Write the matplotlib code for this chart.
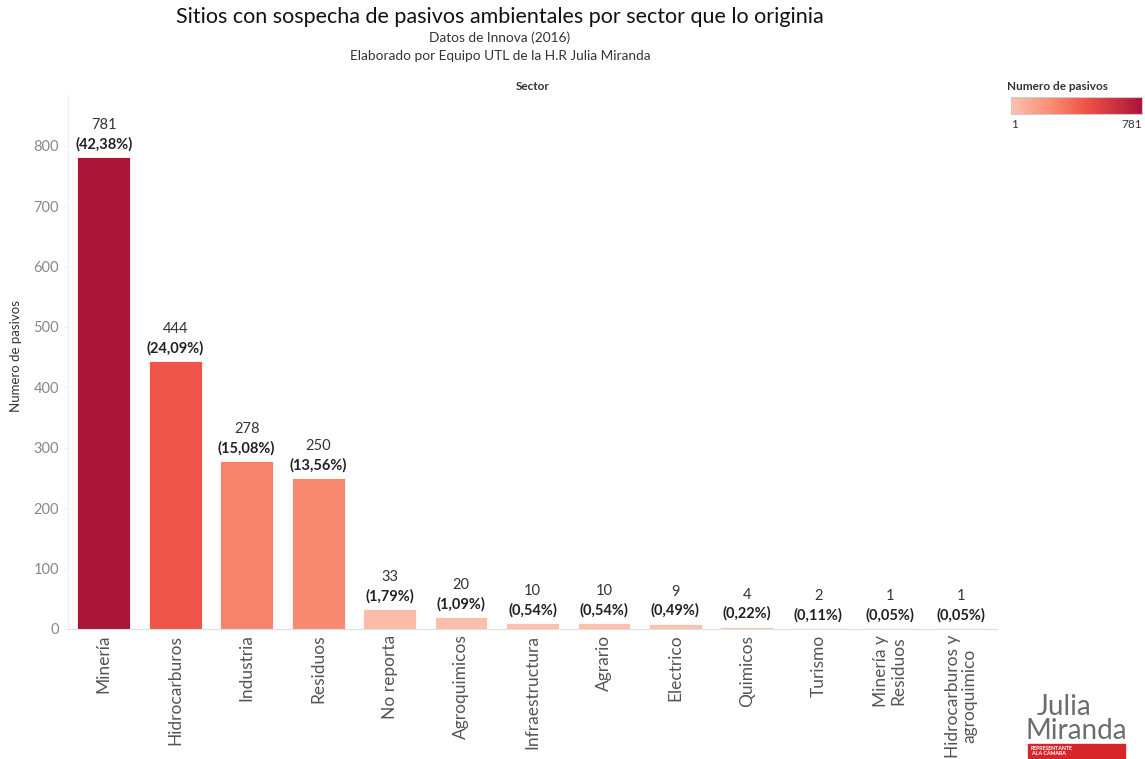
import numpy as np
import matplotlib.pyplot as plt
from matplotlib.colors import LinearSegmentedColormap, Normalize
from matplotlib.patches import Rectangle

plt.rcParams['font.family'] = ['Lato', 'DejaVu Sans']

sectores = ["Minería", "Hidrocarburos", "Industria", "Residuos", "No reporta",
            "Agroquimicos", "Infraestructura", "Agrario", "Electrico", "Quimicos",
            "Turismo", "Minería y\nResiduos", "Hidrocarburos y\nagroquimico"]
pasivos = [781, 444, 278, 250, 33, 20, 10, 10, 9, 4, 2, 1, 1]

total = sum(pasivos)
cmap = LinearSegmentedColormap.from_list(
    "rojos", [(0.0, "#fdc2b0"), (0.32, "#f98a72"), (0.57, "#ef5449"), (1.0, "#ab1439")])
norm = Normalize(vmin=1, vmax=781)

fig = plt.figure(figsize=(11.45, 7.59), dpi=100)
W, H = 1145, 759
ax = fig.add_axes([68 / W, 1 - 629 / H, (997 - 68) / W, (629 - 95) / H])

x = np.arange(len(sectores))
colores = [cmap(norm(v)) for v in pasivos]
ax.bar(x, pasivos, width=0.74, color=colores, edgecolor="white", linewidth=0.6)

for xi, v in zip(x, pasivos):
    pct = f"({v / total * 100:.2f}%)".replace(".", ",")
    ax.annotate(pct, (xi, v), xytext=(0, 4), textcoords="offset points",
                ha="center", va="bottom", fontsize=10.5, fontweight="bold", color="#222222")
    ax.annotate(str(v), (xi, v), xytext=(0, 18), textcoords="offset points",
                ha="center", va="bottom", fontsize=10.5, color="#333333")

ax.set_xlim(-0.5, 12.5)
ax.set_ylim(0, 884)
ax.set_yticks(range(0, 801, 100))
ax.tick_params(axis="y", labelsize=10.5, length=3, color="#eeeeee", labelcolor="#888888")
ax.set_xticks(x)
ax.set_xticklabels(sectores, rotation=90, fontsize=12.5, color="#555555", linespacing=1.05)
ax.tick_params(axis="x", length=0, pad=4)
for s in ["top", "right"]:
    ax.spines[s].set_visible(False)
ax.spines["left"].set_color("#eeeeee")
ax.spines["bottom"].set_color("#e0e0e0")

fig.text(16 / W, 1 - 356 / H, "Numero de pasivos", rotation=90, ha="center", va="center",
         fontsize=9.5, color="#333333")

fig.text(500 / W, 1 - 17 / H, "Sitios con sospecha de pasivos ambientales por sector que lo originia",
         ha="center", va="center", fontsize=15.5, color="#111111")
fig.text(500 / W, 1 - 38 / H, "Datos de Innova (2016)", ha="center", va="center",
         fontsize=9.8, color="#333333")
fig.text(500 / W, 1 - 56 / H, "Elaborado por Equipo UTL de la H.R Julia Miranda",
         ha="center", va="center", fontsize=9.8, color="#333333")
fig.text(533 / W, 1 - 86 / H, "Sector", ha="center", va="center", fontsize=8.5,
         fontweight="bold", color="#333333")

# leyenda de color
fig.text(1007 / W, 1 - 87 / H, "Numero de pasivos", ha="left", va="center", fontsize=8.5,
         fontweight="bold", color="#333333")
cax = fig.add_axes([1011 / W, 1 - 114 / H, 131 / W, 17 / H])
cax.imshow(np.linspace(0, 1, 256)[None, :], aspect="auto", cmap=cmap)
cax.set_xticks([])
cax.set_yticks([])
for s in cax.spines.values():
    s.set_color("#cccccc")
fig.text(1011 / W, 1 - 125 / H, "1", ha="left", va="center", fontsize=8.5, color="#333333")
fig.text(1142 / W, 1 - 125 / H, "781", ha="right", va="center", fontsize=8.5, color="#333333")

# logo
fig.text(1064 / W, 1 - 707 / H, "Julia", ha="center", va="center", fontsize=20, color="#6d6d6d")
fig.text(1076 / W, 1 - 731 / H, "Miranda", ha="center", va="center", fontsize=20, color="#6d6d6d")
fig.patches.append(Rectangle((1028 / W, 1 - 758 / H), 97 / W, 14 / H,
                             transform=fig.transFigure, color="#d7262a"))
fig.text(1031 / W, 1 - 751 / H, "REPRESENTANTE\nA LA CÁMARA", ha="left", va="center",
         fontsize=3.8, color="white", fontweight="bold", linespacing=1.0)

fig.savefig("out.png", dpi=100)
